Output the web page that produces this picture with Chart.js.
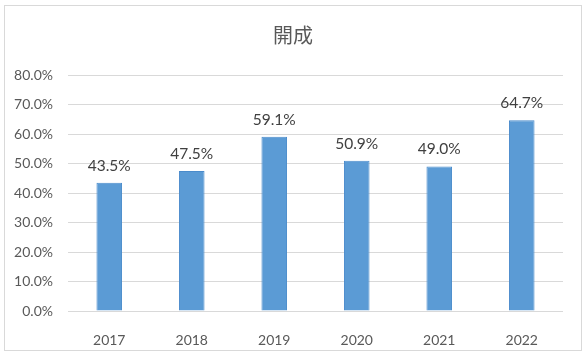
<!DOCTYPE html>
<html>
<head>
<meta charset="utf-8">
<script src="https://cdn.jsdelivr.net/npm/chart.js@4/dist/chart.umd.min.js"></script>
<style>
  html, body { margin: 0; padding: 0; background: #fff; }
  #frame { position: absolute; left: 4px; top: 5px; width: 576px; height: 344px; border: 1px solid #D9D9D9; }
  #wrap { position: absolute; left: 0; top: 0; width: 586px; height: 357px; }
</style>
</head>
<body>
<div id="frame"></div>
<div id="wrap"><canvas id="c" width="586" height="357"></canvas></div>
<script>
const categories = ["2017", "2018", "2019", "2020", "2021", "2022"];
const values = [43.5, 47.5, 59.1, 50.9, 49.0, 64.7];
const yTicks = [0, 10, 20, 30, 40, 50, 60, 70, 80];
const titleText = "開成";

const labelPlugin = {
  id: 'barLabels',
  afterDatasetsDraw(chart) {
    const ctx = chart.ctx;
    const meta = chart.getDatasetMeta(0);
    ctx.save();
    ctx.font = '15.5px Lato, "Liberation Sans", sans-serif';
    ctx.fillStyle = '#404040';
    ctx.textAlign = 'center';
    ctx.textBaseline = 'middle';
    meta.data.forEach((bar, i) => {
      ctx.fillText(values[i].toFixed(1) + '%', bar.x, bar.y - 17);
    });
    ctx.restore();
  }
};

new Chart(document.getElementById('c'), {
  type: 'bar',
  data: {
    labels: categories,
    datasets: [{
      data: values,
      backgroundColor: '#5B9BD5',
      borderColor: '#4A8BCB',
      borderWidth: 1,
      barPercentage: 0.31,
      categoryPercentage: 1.0
    }]
  },
  options: {
    responsive: false,
    animation: false,
    layout: { padding: { left: 0, right: 0, top: 0, bottom: 0 } },
    plugins: {
      legend: { display: false },
      tooltip: { enabled: false },
      title: {
        display: true,
        text: titleText,
        color: '#595959',
        font: { family: '"Noto Sans CJK JP", sans-serif', size: 20, weight: 'normal', lineHeight: 1.2 },
        padding: { top: 23, bottom: 28 }
      }
    },
    scales: {
      x: {
        grid: { display: false },
        border: { display: false },
        ticks: {
          color: '#595959',
          font: { family: 'Lato, "Liberation Sans", sans-serif', size: 14 },
          padding: 13
        },
        afterFit(scale) { scale.height = 46; }
      },
      y: {
        min: 0,
        max: 80,
        afterBuildTicks(scale) { scale.ticks = yTicks.map(v => ({ value: v })); },
        grid: { color: '#D9D9D9', lineWidth: 1, drawTicks: false },
        border: { display: false },
        ticks: {
          color: '#595959',
          font: { family: 'Lato, "Liberation Sans", sans-serif', size: 14 },
          padding: 15,
          callback: v => v.toFixed(1) + '%'
        },
        afterFit(scale) { scale.width = 68; }
      },
      yRight: {
        position: 'right',
        display: true,
        min: 0,
        max: 80,
        grid: { display: false },
        border: { display: false },
        ticks: { display: false },
        afterFit(scale) { scale.width = 23; }
      }
    }
  },
  plugins: [labelPlugin]
});
</script>
</body>
</html>
